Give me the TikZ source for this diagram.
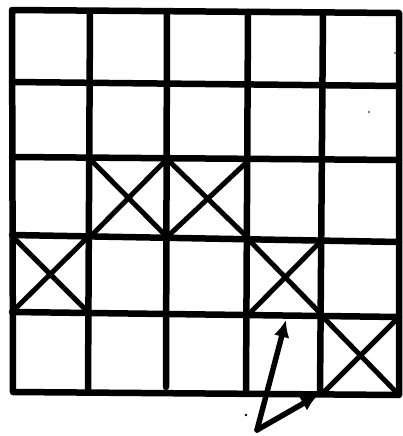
\documentclass[tikz,border=0pt]{standalone}
\usetikzlibrary{arrows.meta}
\begin{document}
\begin{tikzpicture}[x=1pt,y=-1pt,
  gridline/.style={line width=6.5pt,line cap=round,line join=round},
  crossline/.style={line width=5pt,line cap=round},
  pointer/.style={line width=5.5pt,line cap=round,-{Latex[length=17pt,width=16pt]}},
  speck/.style={fill=black}]
\useasboundingbox (0,0) rectangle (402,436);
% outer frame
\draw[gridline] (12,10) -- (399,13) -- (399,395) -- (13,392) -- cycle;
% vertical lines
\draw[gridline] (90,11) -- (88,392);
\draw[gridline] (167,12) -- (166,387);
\draw[gridline] (248,12) -- (246,393);
\draw[gridline] (323,13) -- (320,394);
% horizontal lines
\draw[gridline] (12,82) -- (399,86);
\draw[gridline] (12,157) -- (399,160);
\draw[gridline] (12,235) -- (399,242);
\draw[gridline] (12,312) -- (399,317);
% crosses
\draw[crossline] (90,159) -- (167,237) (167,159) -- (90,237);
\draw[crossline] (167,159) -- (248,238) (248,161) -- (167,237);
\draw[crossline] (12,236) -- (88,312) (88,237) -- (12,312);
\draw[crossline] (248,239) -- (322,315) (322,240) -- (248,315);
\draw[crossline] (322,316) -- (399,395) (399,317) -- (322,394);
% arrows
\coordinate (tail) at (257,430);
\coordinate (headA) at (286,320);
\coordinate (headB) at (318,395);
\draw[pointer] (tail) -- (headA);
\draw[pointer] (tail) -- (headB);
% specks
\fill[speck] (246,415) circle (1.3pt);
\fill[speck] (395,53) circle (0.9pt);
\fill[speck] (369,112) circle (0.9pt);
\end{tikzpicture}
\end{document}
